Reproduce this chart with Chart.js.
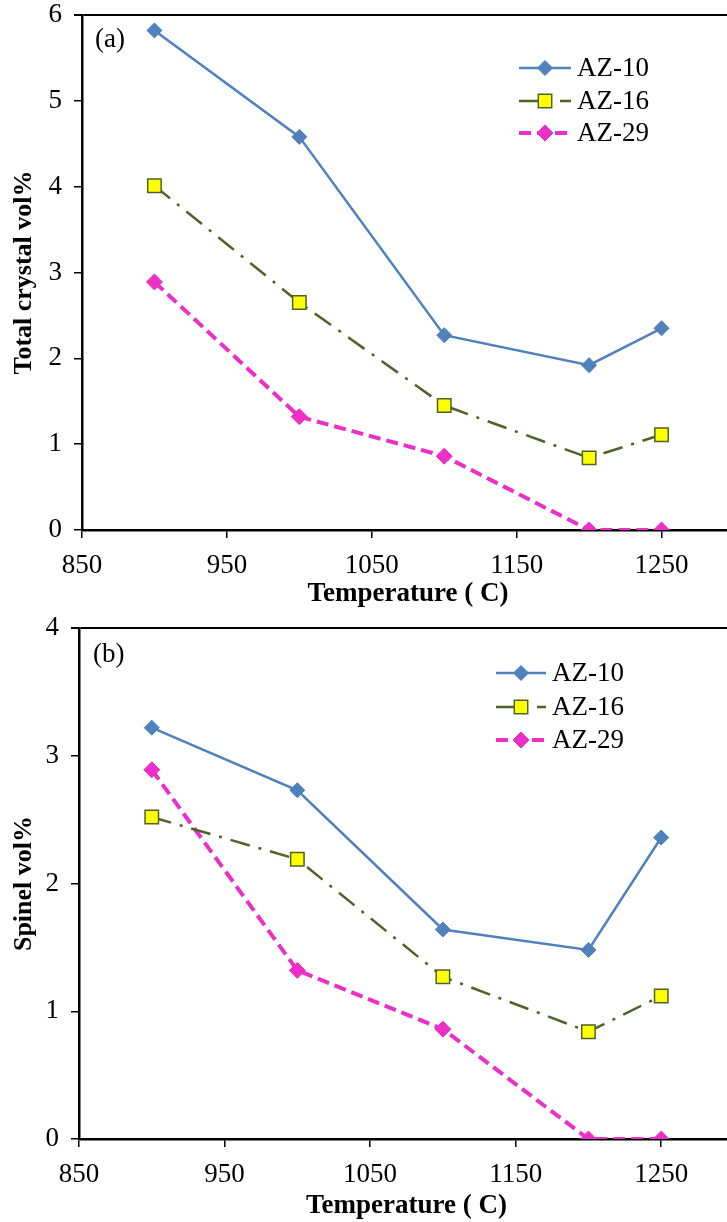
<!DOCTYPE html>
<html><head><meta charset="utf-8">
<script src="https://cdn.jsdelivr.net/npm/chart.js@4"></script>
<style>
html,body{margin:0;padding:0;overflow:hidden;background:#fff;width:727px;height:1222px;}
.wrap{position:absolute;left:0;}
canvas{display:block;}
</style></head><body>
<div class="wrap" style="top:0"><canvas id="ca" width="745" height="612"></canvas></div>
<div class="wrap" style="top:612px"><canvas id="cb" width="745" height="610"></canvas></div>
<script>
// ---- data ----
const temps = [900, 1000, 1100, 1200, 1250];
const xTicks = [850, 950, 1050, 1150, 1250];
const seriesNames = ['AZ-10', 'AZ-16', 'AZ-29'];
const totalAZ10 = [5.82, 4.58, 2.27, 1.92, 2.35];
const totalAZ16 = [4.01, 2.65, 1.45, 0.84, 1.11];
const totalAZ29 = [2.89, 1.32, 0.86, 0.00, 0.00];
const spinelAZ10 = [3.22, 2.73, 1.64, 1.48, 2.36];
const spinelAZ16 = [2.52, 2.19, 1.27, 0.84, 1.12];
const spinelAZ29 = [2.89, 1.32, 0.86, 0.00, 0.00];
const yTicksA = [0, 1, 2, 3, 4, 5, 6];
const yTicksB = [0, 1, 2, 3, 4];

const FONT = '"Liberation Serif", "Times New Roman", serif';

const styles = [
  {borderColor:'#4F81BD', backgroundColor:'#4F81BD', borderWidth:2.5, borderDash:[], pointStyle:'rectRot', pointRadius:7.5, pointBorderColor:'#4F81BD', pointBackgroundColor:'#4F81BD', pointBorderWidth:1},
  {borderColor:'#4F6228', backgroundColor:'#FFFF00', borderWidth:2.5, borderDash:[20,9,3,9], pointStyle:'rect', pointRadius:9.5, pointBorderColor:'#4F6228', pointBackgroundColor:'#FFFF00', pointBorderWidth:1.5},
  {borderColor:'#EC2FC6', backgroundColor:'#EC2FC6', borderWidth:4, borderDash:[12,6], pointStyle:'rectRot', pointRadius:8, pointBorderColor:'#EC2FC6', pointBackgroundColor:'#EC2FC6', pointBorderWidth:1}
];

function makeDatasets(arrs){
  return arrs.map((vals,i)=>Object.assign({
    label: seriesNames[i],
    data: temps.map((t,j)=>({x:t, y:vals[j]})),
    tension:0, fill:false, pointHoverRadius: styles[i].pointRadius
  }, styles[i]));
}

const legendPlugin = {
  id:'customLegend',
  afterDraw(chart, args, opts){
    const ctx = chart.ctx;
    ctx.save();
    chart.data.datasets.forEach((ds,i)=>{
      const y = opts.rows[i];
      ctx.beginPath();
      ctx.setLineDash(ds.borderDash||[]);
      ctx.lineWidth = ds.borderWidth;
      ctx.strokeStyle = ds.borderColor;
      ctx.moveTo(opts.x0, y); ctx.lineTo(opts.x1, y);
      ctx.stroke();
      ctx.setLineDash([]);
      ctx.fillStyle = ds.pointBackgroundColor;
      ctx.strokeStyle = ds.pointBorderColor;
      ctx.lineWidth = ds.pointBorderWidth;
      Chart.helpers.drawPoint(ctx, {pointStyle: ds.pointStyle, radius: ds.pointRadius, rotation:0, borderWidth: ds.pointBorderWidth}, (opts.x0+opts.x1)/2, y);
      ctx.fillStyle = '#000';
      ctx.font = '27px ' + FONT;
      ctx.textBaseline = 'middle';
      ctx.textAlign = 'left';
      ctx.fillText(ds.label, opts.textX, y+1);
    });
    ctx.font = '27px ' + FONT;
    ctx.fillStyle = '#000';
    ctx.textBaseline = 'middle';
    ctx.fillText(opts.panel, opts.panelX, opts.panelY);
    ctx.restore();
  }
};

function makeChart(id, arrs, yTicks, yMax, yTitle, cfg){
  return new Chart(document.getElementById(id), {
    type:'line',
    data:{datasets: makeDatasets(arrs)},
    plugins:[legendPlugin],
    options:{
      responsive:false, animation:false,
      layout:{padding:{left:0, right:cfg.padRight, top:cfg.padTop, bottom:0}},
      plugins:{
        legend:{display:false}, tooltip:{enabled:false},
        customLegend: cfg.legend
      },
      scales:{
        x:{
          type:'linear', min:850, max:1300,
          afterBuildTicks(s){ s.ticks = xTicks.map(v=>({value:v})); },
          afterFit(s){ s.height = cfg.xHeight; s.paddingLeft = 0; s.paddingRight = 0; },
          grid:{drawOnChartArea:false, drawTicks:true, tickLength:8, tickColor:'#000', lineWidth:1.5},
          border:{display:true, color:'#000', width:2.5},
          ticks:{color:'#000', font:{family:FONT, size:27}, padding:12, maxRotation:0, autoSkip:false, callback:(v)=>String(v)},
          title:{display:true, text:'Temperature ( C)', color:'#000', font:{family:FONT, size:27, weight:'bold'}, padding:{top:0, bottom:cfg.xTitlePad}}
        },
        y:{
          type:'linear', min:0, max:yMax,
          afterBuildTicks(s){ s.ticks = yTicks.map(v=>({value:v})); },
          afterFit(s){ s.width = cfg.yWidth; s.paddingTop = 0; s.paddingBottom = 0; },
          grid:{drawOnChartArea:true, drawTicks:true, tickLength:8, tickColor:'#000',
                color:(c)=> (c.tick && c.tick.value===yMax) ? '#000' : 'rgba(0,0,0,0)',
                lineWidth:(c)=> (c.tick && c.tick.value===yMax) ? 2 : 1.5},
          border:{display:true, color:'#000', width:2.5},
          ticks:{color:'#000', font:{family:FONT, size:27}, padding:12, autoSkip:false, callback:(v)=>String(v)},
          title:{display:true, text:yTitle, color:'#000', font:{family:FONT, size:26, weight:'bold'}, padding:{top:cfg.yTitlePad, bottom:0}}
        }
      }
    }
  });
}

makeChart('ca', [totalAZ10, totalAZ16, totalAZ29], yTicksA, 6, 'Total crystal vol%', {
  padRight:8, padTop:15, xHeight:82, yWidth:82, xTitlePad:2, yTitlePad:9,
  legend:{x0:519, x1:571, textX:577, rows:[68,101,133], panel:'(a)', panelX:95, panelY:40}
});
makeChart('cb', [spinelAZ10, spinelAZ16, spinelAZ29], yTicksB, 4, 'Spinel vol%', {
  padRight:8, padTop:16, xHeight:83, yWidth:79, xTitlePad:0, yTitlePad:9,
  legend:{x0:496, x1:546, textX:552, rows:[61,95,128], panel:'(b)', panelX:93, panelY:43}
});
</script>
</body></html>
